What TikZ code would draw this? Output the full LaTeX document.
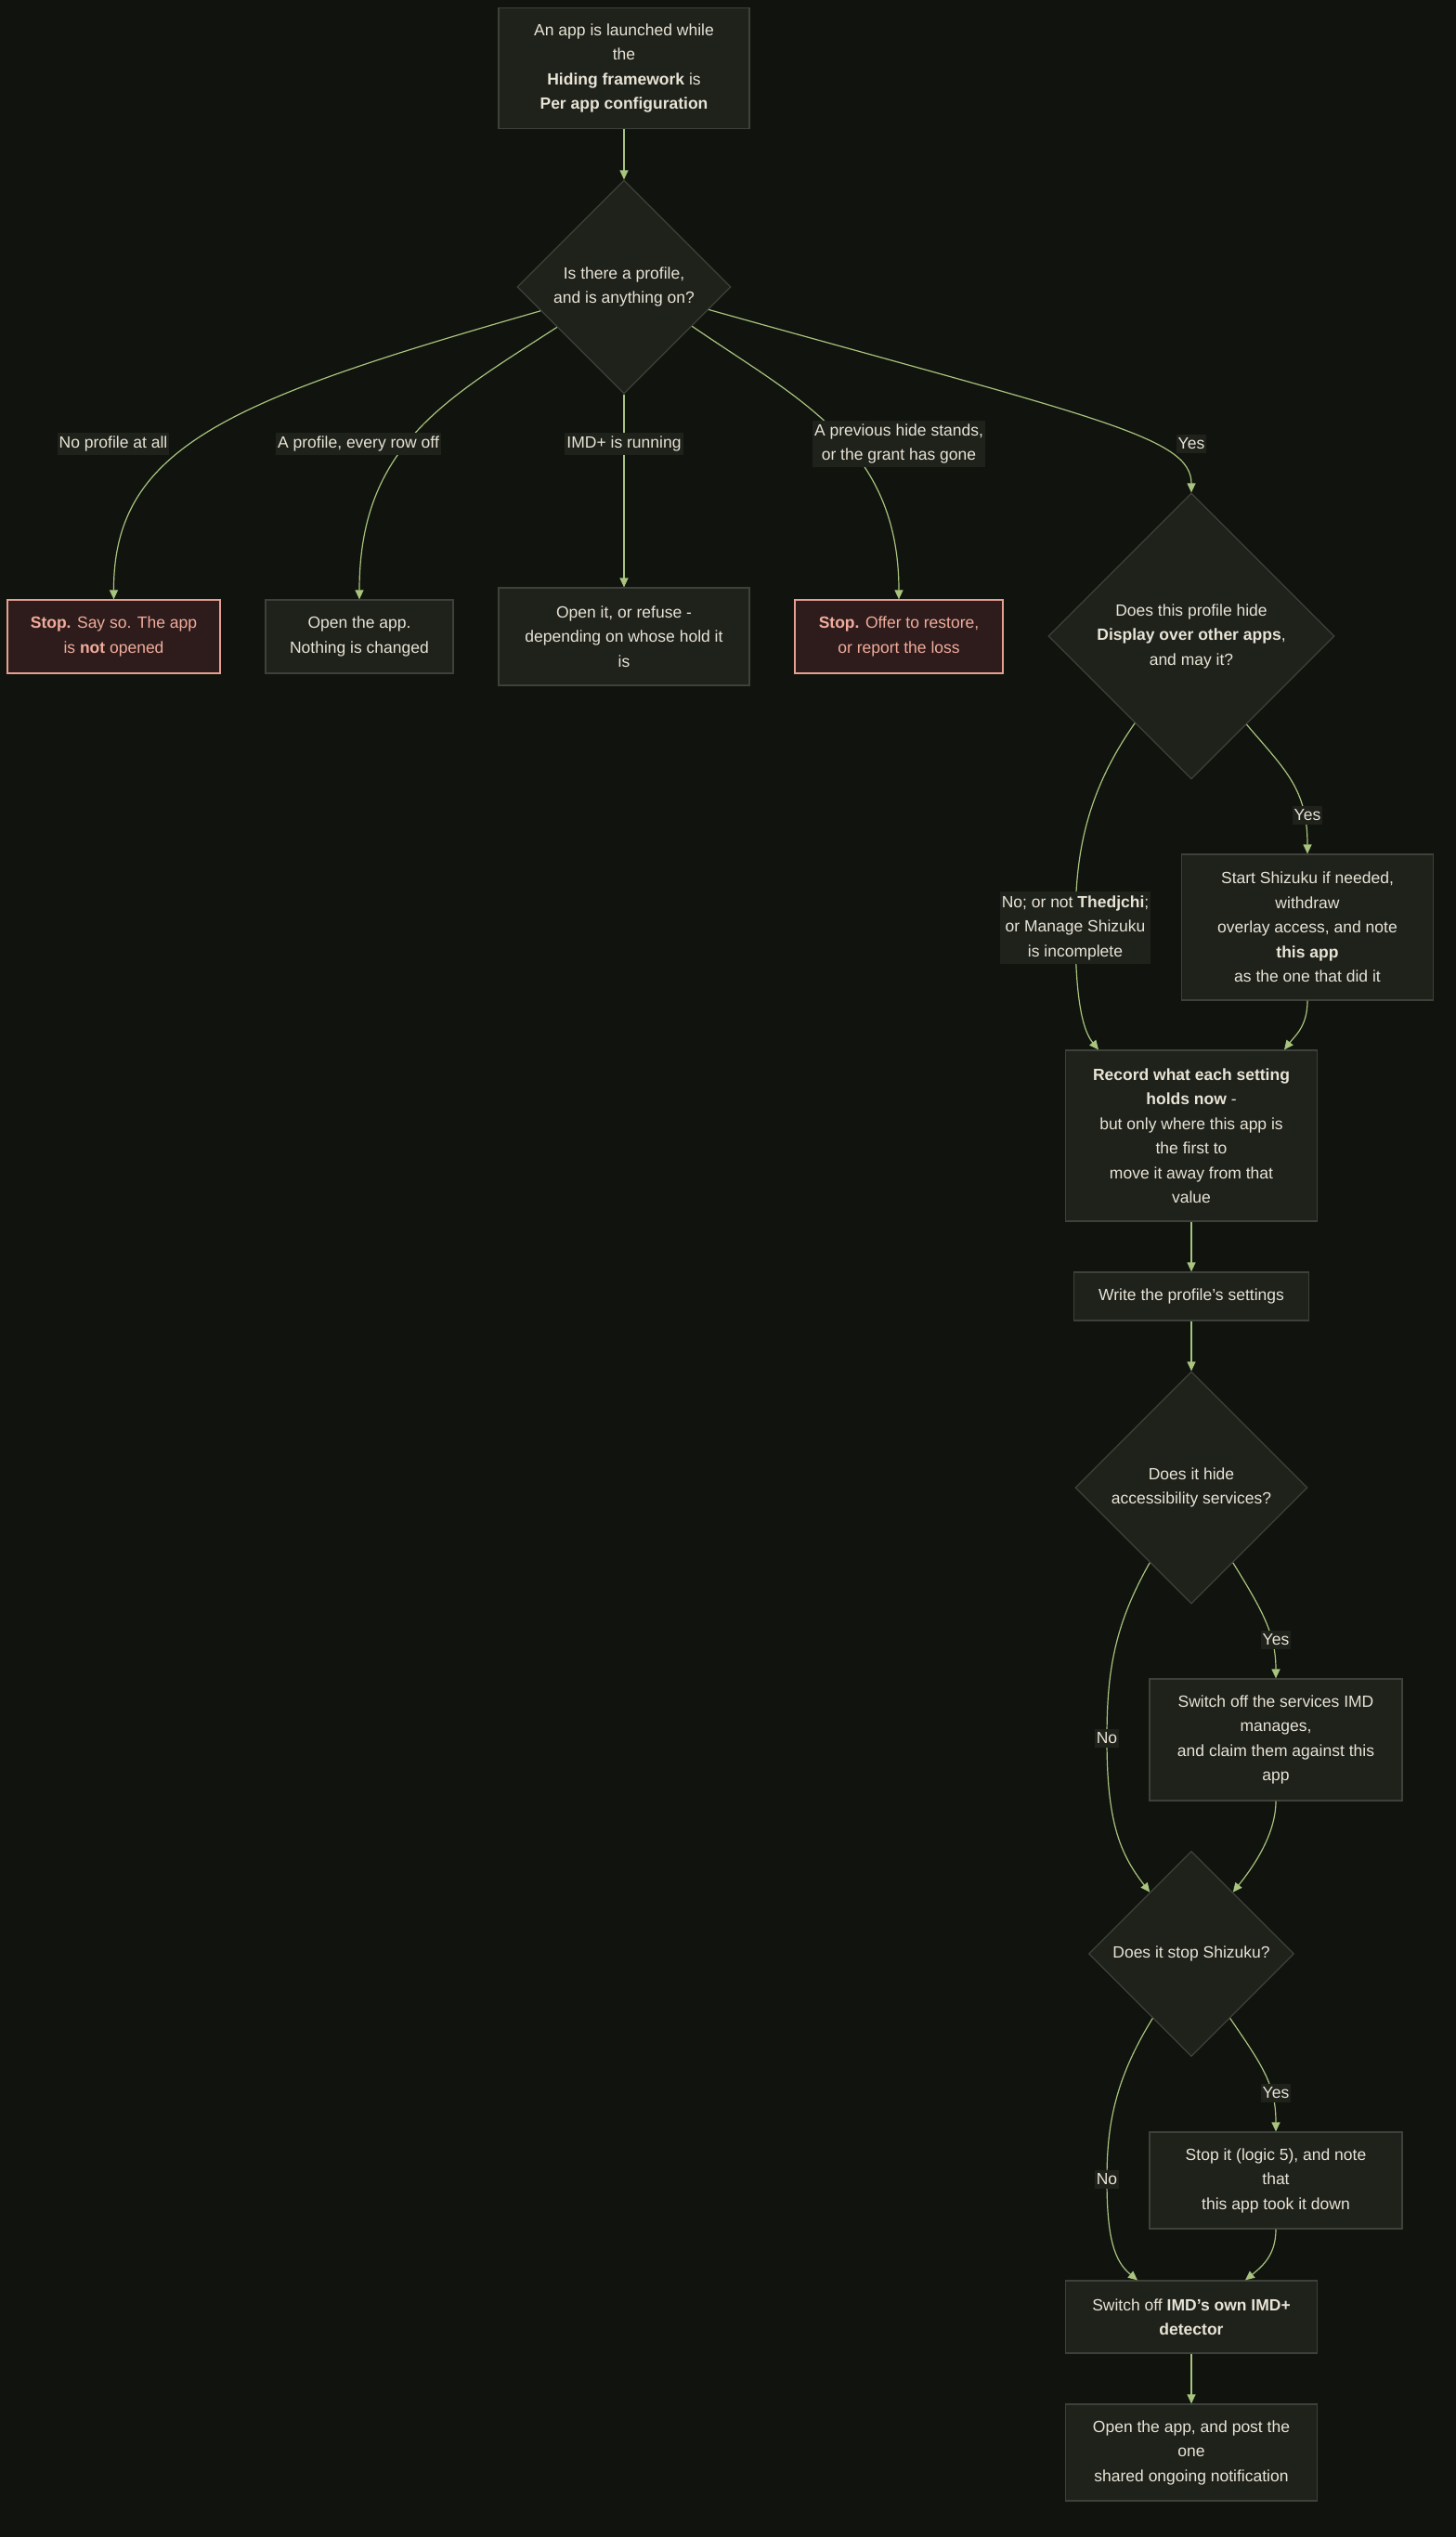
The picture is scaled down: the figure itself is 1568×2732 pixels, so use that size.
\documentclass[tikz,border=0pt]{standalone}
\usepackage{fontspec}
\setmainfont{Liberation Sans}
\usetikzlibrary{shapes.geometric,arrows.meta,calc}
\definecolor{bgc}{RGB}{17,19,14}
\definecolor{nodefill}{RGB}{31,33,27}
\definecolor{nodeline}{RGB}{62,65,57}
\definecolor{txt}{RGB}{232,228,214}
\definecolor{edgec}{RGB}{168,196,126}
\definecolor{stopfill}{RGB}{45,28,27}
\definecolor{stopline}{RGB}{230,160,145}
\definecolor{stoptxt}{RGB}{242,172,156}
\begin{document}
\begin{tikzpicture}[x=1bp,y=-1bp,
  every node/.style={font=\fontsize{17.5bp}{26.5bp}\selectfont, text=txt, align=center},
  box/.style={draw=nodeline, fill=nodefill, line width=1.2bp, inner sep=2bp},
  stopbox/.style={draw=stopline, fill=stopfill, text=stoptxt, line width=1.2bp, inner sep=2bp},
  dec/.style={diamond, aspect=1, draw=nodeline, fill=nodefill, line width=1.2bp, inner sep=0pt},
  lab/.style={fill=nodefill, inner xsep=2bp, inner ysep=4bp},
  conn/.style={draw=edgec, line width=1.2bp, -{Triangle[length=10bp,width=9bp]}},
]
\fill[bgc] (0,0) rectangle (1568,2732);
\useasboundingbox (0,0) rectangle (1568,2732);

% nodes
\node[box, minimum width=270bp, minimum height=130bp] (top) at (672,73.5)
  {An app is launched while\\the\\\textbf{Hiding framework} is\\\textbf{Per app configuration}};
\node[dec, minimum width=230bp, minimum height=230bp] (d1) at (672,309)
  {Is there a profile,\\and is anything on?};
\node[stopbox, minimum width=229bp, minimum height=79bp] (stop1) at (122.5,685.5)
  {\textbf{Stop.} Say so. The app\\is \textbf{not} opened};
\node[box, minimum width=202bp, minimum height=79bp] (openA) at (387,685.5)
  {Open the app.\\Nothing is changed};
\node[box, minimum width=270bp, minimum height=105bp] (openIt) at (672,685.5)
  {Open it, or refuse -\\depending on whose hold it\\is};
\node[stopbox, minimum width=224bp, minimum height=79bp] (stop2) at (968,685.5)
  {\textbf{Stop.} Offer to restore,\\or report the loss};
\node[dec, minimum width=308bp, minimum height=308bp] (d2) at (1283,685)
  {Does this profile hide\\\textbf{Display over other apps},\\and may it?};
\node[box, minimum width=271bp, minimum height=157bp] (shz) at (1408,998.5)
  {Start Shizuku if needed,\\withdraw\\overlay access, and note\\\textbf{this app}\\as the one that did it};
\node[box, minimum width=271bp, minimum height=184bp] (rec) at (1283,1223)
  {\textbf{Record what each setting}\\\textbf{holds now} -\\but only where this app is\\the first to\\move it away from that\\value};
\node[box, minimum width=253bp, minimum height=52bp] (write) at (1283,1396)
  {Write the profile's settings};
\node[dec, minimum width=250bp, minimum height=250bp] (d3) at (1283,1602)
  {Does it hide\\accessibility services?};
\node[box, minimum width=272bp, minimum height=131bp] (swoff) at (1374,1873.5)
  {Switch off the services IMD\\manages,\\and claim them against this\\app};
\node[dec, minimum width=221bp, minimum height=221bp] (d4) at (1283,2104)
  {Does it stop Shizuku?};
\node[box, minimum width=272bp, minimum height=104bp] (stopit) at (1374,2348)
  {Stop it (logic 5), and note\\that\\this app took it down};
\node[box, minimum width=271bp, minimum height=78bp] (imd) at (1283,2495)
  {Switch off \textbf{IMD's own IMD+}\\\textbf{detector}};
\node[box, minimum width=271bp, minimum height=104bp] (final) at (1283,2641)
  {Open the app, and post the\\one\\shared ongoing notification};

% connectors
\draw[conn] (top) -- (d1);
\draw[conn] (d1.196) .. controls (250,430) and (122,480) .. (stop1.north);
\draw[conn] (d1.211) .. controls (480,430) and (387,480) .. (openA.north);
\draw[conn] (d1) -- (openIt);
\draw[conn] (d1.330) .. controls (860,430) and (968,480) .. (stop2.north);
\draw[conn] (d1.345) .. controls (1180,450) and (1283,470) .. (d2.north);

\draw[conn] (d2.237) .. controls (1165,860) and (1158,930) .. (1158,999)
  .. controls (1158,1085) and (1168,1112) .. ([xshift=-100bp]rec.north);
\draw[conn] (d2.302) .. controls (1385,830) and (1408,850) .. (shz.north);
\draw[conn] (shz.south) .. controls (1408,1105) and (1395,1115) .. ([xshift=100bp]rec.north);
\draw[conn] (rec) -- (write);
\draw[conn] (write) -- (d3);

\draw[conn] (d3.241) .. controls (1200,1750) and (1192,1800) .. (1192,1872)
  .. controls (1192,1960) and (1205,1995) .. (d4.124);
\draw[conn] (d3.299) .. controls (1360,1735) and (1374,1760) .. (swoff.north);
\draw[conn] (swoff.south) .. controls (1374,1975) and (1350,2010) .. (d4.56);

\draw[conn] (d4.239) .. controls (1200,2240) and (1192,2290) .. (1192,2347)
  .. controls (1192,2410) and (1200,2435) .. ([xshift=-58bp]imd.north);
\draw[conn] (d4.301) .. controls (1360,2225) and (1374,2245) .. (stopit.north);
\draw[conn] (stopit.south) .. controls (1374,2428) and (1360,2440) .. ([xshift=58bp]imd.north);
\draw[conn] (imd) -- (final);

% labels
\node[lab] (l1) at (122,478) {No profile at all};
\node[lab] (l2) at (386,478) {A profile, every row off};
\node[lab] (l3) at (672,478) {IMD+ is running};
\node[lab] (l4) at (968,478) {A previous hide stands,\\or the grant has gone};
\node[lab] (l5) at (1283,478) {Yes};
\node[lab] (l6) at (1158,999) {No; or not \textbf{Thedjchi};\\or Manage Shizuku\\is incomplete};
\node[lab] (l7) at (1408,878) {Yes};
\node[lab] (l8) at (1192,1872) {No};
\node[lab] (l9) at (1374,1766) {Yes};
\node[lab] (l10) at (1192,2347) {No};
\node[lab] (l11) at (1374,2254) {Yes};
\end{tikzpicture}
\end{document}
